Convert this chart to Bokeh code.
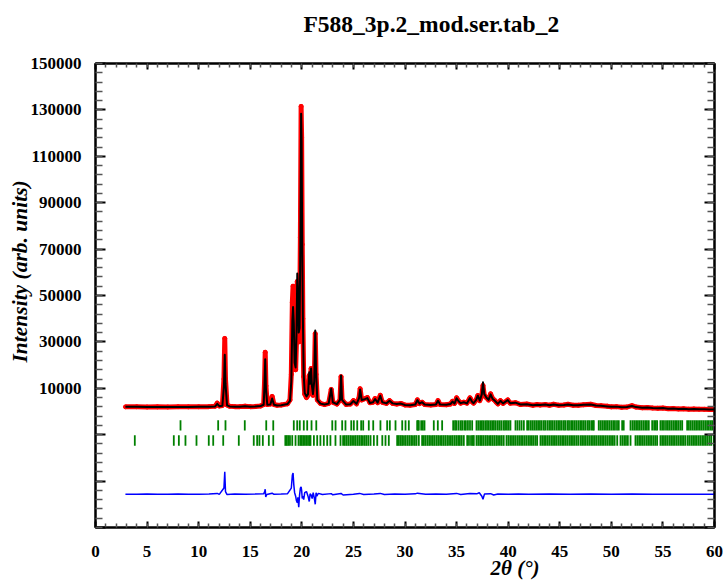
from bokeh.plotting import figure
from bokeh.models import Range1d, LinearAxis, FixedTicker, Title
from bokeh.embed import file_html
from bokeh.resources import INLINE

# ---------------- data ----------------
title_text = "F588_3p.2_mod.ser.tab_2"
x_label_text = "2\u03b8 (\u00b0)"
y_label_text = "Intensity (arb. units)"

two_theta = [2.9, 4.0, 5.0, 6.0, 7.0, 8.0, 9.0, 10.0, 11.0, 11.6, 11.8, 12.0, 12.3, 12.45, 12.53, 12.6, 12.75,
             13.0, 13.5, 14.0, 14.5, 15.0, 15.5, 16.0, 16.3, 16.38, 16.45, 16.52, 16.65, 16.95, 17.12, 17.3,
             17.6, 18.0, 18.6, 18.85, 18.98, 19.08, 19.15, 19.22, 19.3, 19.4, 19.48, 19.56, 19.62, 19.7,
             19.78, 19.86, 19.93, 19.98, 20.04, 20.1, 20.18, 20.28, 20.45, 20.6, 20.72, 20.8, 20.9, 20.98,
             21.08, 21.2, 21.3, 21.38, 21.5, 21.8, 22.2, 22.6, 22.85, 23.0, 23.4, 23.7, 23.8, 23.9, 24.3,
             24.7, 25.0, 25.3, 25.55, 25.65, 25.8, 26.1, 26.35, 26.6, 26.9, 27.1, 27.35, 27.6, 27.8, 28.2,
             28.5, 28.8, 29.2, 29.6, 30.0, 30.5, 31.0, 31.2, 31.4, 31.66, 31.9, 32.5, 33.0, 33.2, 33.4,
             34.0, 34.4, 34.6, 34.8, 35.0, 35.2, 35.4, 35.7, 36.0, 36.3, 36.5, 36.65, 36.9, 37.06, 37.25,
             37.45, 37.56, 37.68, 37.9, 38.1, 38.3, 38.5, 38.65, 38.85, 39.0, 39.25, 39.5, 39.96, 40.2,
             40.7, 41.2, 41.8, 42.4, 42.8, 43.1, 43.6, 44.0, 44.4, 44.9, 45.4, 45.8, 46.3, 46.8, 47.3,
             48.0, 48.5, 49.0, 49.6, 50.0, 50.5, 51.0, 51.5, 52.0, 52.4, 53.0, 53.5, 54.0, 54.5, 55.0,
             55.5, 56.0, 56.5, 57.0, 57.5, 58.0, 58.5, 59.0, 59.5, 60.0]

y_obs = [2000, 2050, 1950, 2000, 1950, 2050, 2000, 2050, 2100, 2300, 3600, 2400, 2600, 14000, 31500, 14000, 2800,
         2300, 2100, 2100, 2300, 2100, 2200, 2400, 3000, 12000, 25500, 11000, 3000, 3200, 6500, 3000,
         2700, 2800, 3300, 5000, 16000, 47000, 54000, 42000, 22000, 18000, 30000, 56000, 50000, 30000,
         36000, 75000, 131500, 118000, 72000, 40000, 15000, 7500, 6000, 7000, 15500, 11000, 18500, 10500,
         7000, 12000, 33500, 16000, 5000, 3500, 3000, 3500, 9500, 4000, 3200, 5000, 15000, 5000, 3000,
         3200, 4700, 3300, 6000, 9800, 5000, 5500, 6000, 3800, 4000, 5600, 3800, 7000, 4000, 3500,
         4700, 3500, 3200, 3500, 2800, 2700, 3000, 5000, 3400, 4000, 3000, 2800, 3000, 4700, 3000,
         2900, 3200, 4400, 3500, 5900, 4500, 3600, 4000, 3600, 5900, 4200, 3600, 5000, 6900, 4700,
         7000, 11200, 7000, 5900, 5000, 7600, 5500, 5000, 4000, 3300, 4700, 3500, 5000, 3600,
         3800, 3000, 3200, 2700, 3000, 2800, 3000, 2700, 3100, 2700, 2800, 3100, 2700, 2700, 2900,
         3100, 2600, 2500, 2300, 2000, 2100, 1800, 1900, 2500, 1900, 1600, 1700, 1500, 1400, 1500,
         1200, 1300, 1100, 1200, 1000, 1100, 1000, 950, 900, 850]

y_calc = [2000, 2000, 1980, 1970, 1960, 1980, 1990, 2000, 2050, 2200, 3300, 2300, 2500, 11000, 24500, 12000, 2700,
          2200, 2100, 2100, 2250, 2100, 2150, 2350, 2900, 11000, 22500, 10000, 2900, 3000, 5600, 2900,
          2600, 2700, 3200, 4600, 13000, 39000, 45000, 38000, 21000, 19000, 33000, 59500, 54000, 34000,
          36000, 72000, 128300, 116000, 70800, 41000, 16000, 8000, 6500, 7500, 16900, 12000, 18500, 11000,
          7500, 13000, 34900, 17000, 5000, 3400, 3000, 3400, 9800, 4000, 3200, 5000, 15500, 5000, 3000,
          3100, 4500, 3300, 5800, 9500, 5000, 5300, 5800, 3700, 4000, 5400, 3800, 6800, 4000, 3500,
          4600, 3500, 3200, 3400, 2800, 2700, 3000, 4900, 3400, 4000, 3000, 2800, 3000, 4600, 3000,
          2900, 3200, 4300, 3400, 5700, 4400, 3600, 4000, 3500, 5800, 4200, 3600, 5000, 6800, 4700,
          7500, 12600, 7500, 5900, 5000, 7400, 5400, 4900, 4000, 3300, 4600, 3500, 4900, 3600,
          3800, 3000, 3100, 2700, 2900, 2800, 3000, 2700, 3000, 2700, 2800, 3000, 2700, 2700, 2900,
          3000, 2600, 2500, 2200, 2000, 2100, 1800, 1900, 2400, 1900, 1600, 1700, 1500, 1400, 1500,
          1200, 1300, 1100, 1200, 1000, 1100, 1000, 950, 900, 850]

diff_two_theta = [2.9, 4.0, 5.0, 6.0, 7.0, 8.0, 9.0, 10.0, 11.0, 11.8, 12.0, 12.45, 12.53, 12.6, 12.75, 13.5,
                  14.5, 15.5, 16.3, 16.4, 16.45, 16.5, 16.6, 17.12, 17.3, 18.0, 18.6, 18.98, 19.08, 19.15,
                  19.22, 19.3, 19.4, 19.48, 19.56, 19.62, 19.7, 19.78, 19.86, 19.93, 19.98, 20.04, 20.1,
                  20.18, 20.28, 20.45, 20.6, 20.72, 20.8, 20.9, 21.0, 21.1, 21.2, 21.3, 21.38, 21.45, 21.6,
                  22.0, 22.85, 23.0, 23.8, 24.0, 25.0, 25.6, 26.0, 27.0, 27.6, 28.0, 29.0, 30.0, 31.0, 31.2,
                  32.0, 33.0, 34.0, 35.0, 35.4, 36.3, 37.0, 37.2, 37.45, 37.56, 37.7, 38.3, 38.6, 39.0, 40.0,
                  41.0, 42.0, 44.0, 46.0, 48.0, 50.0, 52.0, 54.0, 56.0, 58.0, 60.0]

y_diff = [-35650, -35700, -35600, -35650, -35700, -35600, -35650, -35700, -35600, -35300, -35700, -33000,
          -26000, -34500, -35800, -35600, -35700, -35600, -35500, -34500, -33500, -36800, -35800, -35200,
          -35700, -35600, -35500, -33000, -27500, -26500, -31500, -35000, -36500, -38500, -39300, -37000,
          -41200, -36000, -33000, -32500, -34000, -37500, -36500, -38000, -35000, -34500, -36500, -38800,
          -35500, -36000, -37500, -35000, -37000, -40000, -35000, -36500, -35300, -35800, -35400, -35900,
          -35300, -36000, -35700, -35300, -35800, -35600, -35300, -35800, -35600, -35700, -35500, -35200,
          -35700, -35600, -35700, -35300, -35800, -35300, -35400, -35000, -36500, -37800, -35600, -35400,
          -36000, -35600, -35700, -35600, -35650, -35600, -35650, -35600, -35650, -35600, -35650, -35650,
          -35650, -35650]

phase1_ticks = [8.24, 11.89, 12.6, 14.47, 16.55, 17.23, 19.22, 19.55, 19.8, 20.19, 20.52, 20.94, 21.4,
                22.95, 23.27, 23.91, 24.23, 24.79, 25.04, 25.37, 25.75, 25.95, 26.49, 26.92, 27.62, 28.27,
                28.53, 29.08, 29.73, 30.05, 30.37, 31.18, 31.26, 31.34, 31.57, 31.73, 31.89, 32.79, 33.18,
                33.6, 34.67, 34.85, 35.0, 35.2, 35.4, 35.55, 35.75, 35.9, 36.1, 36.3, 36.51, 36.93, 37.1,
                37.28, 37.45, 37.6, 37.78, 37.95, 38.12, 38.29, 38.45, 38.62, 38.8, 39.0, 39.18, 39.35,
                39.55, 39.7, 39.88, 40.05, 40.22, 40.71, 40.9, 41.1, 41.3, 41.52, 41.84, 42.0, 42.2, 42.38,
                42.55, 42.72, 42.9, 43.08, 43.25, 43.45, 43.6, 43.8, 43.98, 44.15, 44.32, 44.5, 44.68,
                44.85, 45.02, 45.2, 45.4, 45.55, 45.75, 45.9, 46.1, 46.27, 46.45, 46.62, 46.8, 46.98,
                47.15, 47.33, 47.5, 47.7, 47.85, 48.05, 48.2, 48.3, 48.78, 48.95, 49.12, 49.3, 49.48,
                49.65, 49.82, 50.0, 50.18, 50.35, 50.55, 50.72, 51.05, 51.2, 51.86, 52.05, 52.22, 52.4,
                52.58, 52.75, 52.92, 53.1, 53.28, 53.45, 53.63, 53.96, 54.15, 54.3, 54.44, 54.76, 54.93,
                55.1, 55.3, 55.48, 55.65, 55.82, 56.0, 56.18, 56.35, 56.52, 56.7, 56.87, 57.35, 57.52,
                57.7, 57.88, 58.05, 58.22, 58.4, 58.58, 58.75, 58.92, 59.1, 59.28, 59.45, 59.62, 59.77]

phase2_ticks = [3.81, 7.59, 8.08, 8.72, 9.79, 10.98, 11.41, 12.38, 13.89, 15.34, 15.67, 15.89, 16.22, 16.8,
                17.23, 18.4, 18.55, 18.7, 18.85, 19.07, 19.39, 19.68, 19.85, 20.0, 20.15, 20.3, 20.45,
                20.6, 20.75, 20.84, 21.17, 21.49, 21.8, 22.13, 22.46, 22.77, 23.26, 23.75, 24.0, 24.17,
                24.35, 24.52, 24.7, 24.87, 25.05, 25.22, 25.4, 25.57, 25.75, 25.92, 26.1, 26.27, 26.45,
                26.66, 26.98, 27.31, 27.8, 28.11, 28.43, 29.24, 29.4, 29.56, 29.72, 29.9, 30.07, 30.25,
                30.42, 30.6, 30.77, 30.95, 31.12, 31.34, 31.66, 31.83, 32.0, 32.18, 32.35, 32.52, 32.7,
                32.87, 33.05, 33.22, 33.4, 33.57, 33.75, 33.92, 34.1, 34.27, 34.45, 34.62, 34.8, 34.97,
                35.15, 35.32, 35.5, 35.7, 36.03, 36.2, 36.4, 36.55, 36.67, 36.93, 37.1, 37.28, 37.45,
                37.62, 37.8, 37.97, 38.15, 38.32, 38.5, 38.67, 38.85, 39.02, 39.2, 39.38, 39.57, 39.84,
                40.02, 40.2, 40.37, 40.55, 40.72, 40.9, 41.07, 41.25, 41.42, 41.6, 41.77, 41.95, 42.12,
                42.3, 42.47, 42.65, 42.81, 43.13, 43.3, 43.48, 43.65, 43.83, 44.0, 44.18, 44.35, 44.53,
                44.7, 44.88, 45.05, 45.23, 45.4, 45.58, 45.75, 45.93, 46.1, 46.28, 46.45, 46.63, 46.8,
                47.01, 47.17, 47.35, 47.52, 47.7, 47.87, 48.05, 48.22, 48.4, 48.57, 48.75, 48.92, 49.1,
                49.27, 49.45, 49.62, 49.8, 49.97, 50.15, 50.32, 50.57, 50.89, 51.07, 51.25, 51.42, 51.6,
                51.86, 52.34, 52.52, 52.7, 52.87, 53.05, 53.22, 53.4, 53.57, 53.75, 53.92, 54.1, 54.27,
                54.44, 54.76, 54.93, 55.1, 55.28, 55.45, 55.63, 55.8, 55.98, 56.15, 56.33, 56.5, 56.68,
                56.85, 57.02, 57.19, 57.41, 57.58, 57.76, 57.93, 58.11, 58.28, 58.46, 58.63, 58.81,
                58.98, 59.16, 59.33, 59.51, 59.68, 59.93]

x_tick_values = [0, 5, 10, 15, 20, 25, 30, 35, 40, 45, 50, 55, 60]
x_tick_labels = ["0", "5", "10", "15", "20", "25", "30", "35", "40", "45", "50", "55", "60"]
y_tick_values = [10000, 30000, 50000, 70000, 90000, 110000, 130000, 150000]
y_tick_labels = ["10000", "30000", "50000", "70000", "90000", "110000", "130000", "150000"]
y_unlabelled_ticks = [-50000, -30000, -10000]

# ---------------- figure ----------------
FONT = "Liberation Serif"

p = figure(width=725, height=585, output_backend="svg", toolbar_location=None,
           x_range=Range1d(0, 60), y_range=Range1d(-50000, 150000),
           x_axis_location=None, y_axis_location=None,
           min_border_left=95, min_border_right=11, min_border_top=63, min_border_bottom=58,
           background_fill_color="white", border_fill_color="white")
p.grid.visible = False
p.outline_line_color = "black"
p.outline_line_width = 2

p.title.text = title_text
p.title.align = "left"
p.title.offset = 208
p.title.standoff = 6
p.title.text_font = FONT
p.title.text_font_style = "bold"
p.title.text_font_size = "23.5px"
p.title.text_color = "black"

x_minor = list(range(0, 61, 1))
x_ticker = FixedTicker(ticks=x_tick_values, minor_ticks=x_minor)
all_y_major = sorted(y_unlabelled_ticks + y_tick_values)
y_minor = list(range(-50000, 150001, 4000))
y_ticker = FixedTicker(ticks=all_y_major, minor_ticks=y_minor)

x_overrides = {v: lab for v, lab in zip(x_tick_values, x_tick_labels)}
y_overrides = {v: lab for v, lab in zip(y_tick_values, y_tick_labels)}
for v in y_unlabelled_ticks:
    y_overrides[v] = ""


def style_axis(ax, major_in, minor_in):
    ax.axis_line_color = "black"
    ax.axis_line_width = 2
    ax.major_tick_in = major_in
    ax.major_tick_out = 0
    ax.minor_tick_in = minor_in
    ax.minor_tick_out = 0
    ax.major_tick_line_width = 2
    ax.minor_tick_line_width = 1.5
    ax.major_tick_line_color = "black"
    ax.minor_tick_line_color = "#555555"
    ax.major_label_text_font = FONT
    ax.major_label_text_font_style = "bold"
    ax.major_label_text_color = "black"


xb = LinearAxis(ticker=x_ticker, major_label_overrides=x_overrides)
style_axis(xb, 6, 4)
xb.major_label_text_font_size = "17px"
xb.major_label_standoff = 18
p.add_layout(xb, "below")

# top axis: tick marks only (blank labels keep room between frame and title)
xt = LinearAxis(ticker=x_ticker, major_label_overrides={v: " " for v in x_tick_values})
style_axis(xt, 6, 4)
xt.major_label_text_font_size = "14px"
xt.major_label_standoff = 6
p.add_layout(xt, "above")

yl = LinearAxis(ticker=y_ticker, major_label_overrides=y_overrides)
style_axis(yl, 10, 7)
yl.major_label_text_font_size = "17px"
yl.major_label_standoff = 14
p.add_layout(yl, "left")

yr = LinearAxis(ticker=y_ticker, major_label_overrides={v: "" for v in all_y_major})
style_axis(yr, 10, 7)
yr.major_label_text_font_size = "10px"
yr.major_label_standoff = 0
p.add_layout(yr, "right")

# axis titles as layout titles (offset along the frame edge)
y_title = Title(text=y_label_text, align="left", offset=165, standoff=-8,
                text_font=FONT, text_font_style="bold italic", text_font_size="21.5px", text_color="black")
p.add_layout(y_title, "left")
x_title = Title(text=x_label_text, align="left", offset=395, standoff=-8, vertical_align="top",
                text_font=FONT, text_font_style="bold italic", text_font_size="21px", text_color="black")
p.add_layout(x_title, "below")

# observed (red), calculated (black)
p.line(two_theta, y_obs, line_color="red", line_width=5, line_join="round")
p.scatter(two_theta, y_obs, size=4, color="red")
p.line(two_theta, y_calc, line_color="black", line_width=2, line_join="round")

# Bragg positions (green)
p.segment(x0=phase1_ticks, y0=-3800, x1=phase1_ticks, y1=-8200, line_color="green", line_width=1.8)
p.segment(x0=phase2_ticks, y0=-10200, x1=phase2_ticks, y1=-14800, line_color="green", line_width=1.8)

# difference (blue)
p.line(diff_two_theta, y_diff, line_color="blue", line_width=1.5)

open("out.html", "w").write(file_html(p, INLINE))
